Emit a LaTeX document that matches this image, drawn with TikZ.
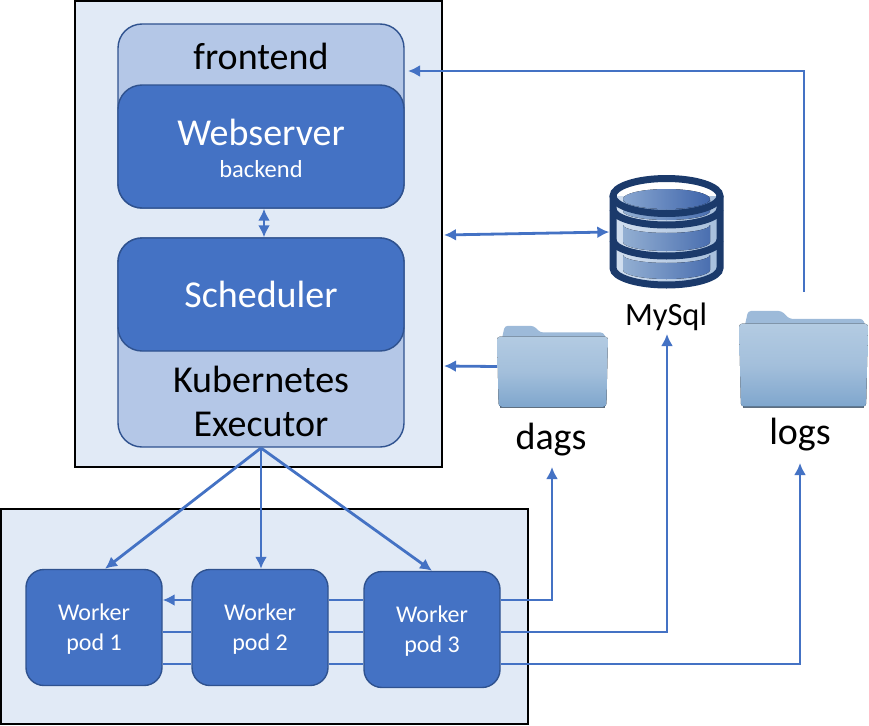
\documentclass[tikz,border=0pt]{standalone}
\usepackage{fontspec}
\setmainfont{Carlito}
\usetikzlibrary{arrows.meta,calc}
\definecolor{panelc}{HTML}{E1EAF6}
\definecolor{mainb}{HTML}{4472C4}
\definecolor{edgeb}{HTML}{2F528F}
\definecolor{lightb}{HTML}{B4C7E7}
\definecolor{navyb}{HTML}{1B3A6B}
\definecolor{b1top}{HTML}{B3CBE2}
\definecolor{b1mid}{HTML}{A3BFDB}
\definecolor{b1bot}{HTML}{7FA6CD}
\definecolor{b1back}{HTML}{9DBAD9}
\definecolor{b1edge}{HTML}{5F6F80}
\definecolor{dblight}{HTML}{D3E0F0}
\definecolor{dbmidl}{HTML}{A6BEDB}
\definecolor{dbbandl}{HTML}{93AFD2}
\definecolor{dbbandr}{HTML}{4A6FB0}
\definecolor{dblidl}{HTML}{88A6D0}
\definecolor{dblidr}{HTML}{3E64AA}
\newcommand{\podstrut}{\rule{0pt}{20.5pt}}
\tikzset{
  panel/.style={draw=black,line width=2pt,fill=panelc,inner sep=0pt},
  bluebox/.style={draw=edgeb,line width=1.4pt,fill=mainb,rounded corners=24pt,text=white,inner sep=0pt,align=center},
  lightbox/.style={draw=edgeb,line width=1.4pt,fill=lightb,rounded corners=24pt,inner sep=0pt},
  podbox/.style={draw=edgeb,line width=1.4pt,fill=mainb,rounded corners=18pt,text=white,inner sep=0pt,align=center,minimum width=136pt,minimum height=116pt,font=\fontsize{24}{30}\selectfont},
  link/.style={draw=mainb,line width=2.8pt},
  arrowlink/.style={link,-{Latex[length=12pt,width=12pt]}},
  twoway/.style={link,{Latex[length=12pt,width=12pt]}-{Latex[length=12pt,width=12pt]}},
  bigtxt/.style={font=\fontsize{38}{44}\selectfont,inner sep=0pt},
  midtxt/.style={font=\fontsize{24.5}{30}\selectfont,inner sep=0pt},
  dbarc/.style={draw=navyb,line width=7pt},
  folderpic/.pic={
    \fill[rounded corners=3pt,b1back] (0.03,0.25) -- (0.07,0.01) -- (0.33,0.01) -- (0.39,0.09) -- (0.96,0.09) -- (0.99,0.2) -- (0.99,0.4) -- (0.01,0.4) -- cycle;
    \fill[b1edge] (0.03,0.9) rectangle (0.97,1);
    \fill[rounded corners=3pt,top color=b1top,bottom color=b1bot,middle color=b1mid] (0,0.14) -- (1,0.14) -- (0.985,0.985) -- (0.015,0.985) -- cycle;
  },
}
\begin{document}
\begin{tikzpicture}[x=1pt,y=-1pt]
\useasboundingbox (0,0) rectangle (869,725);
% panels
\node[panel,minimum width=367pt,minimum height=466pt] (control) at (258.5,234) {};
\node[panel,minimum width=527pt,minimum height=215pt] (workers) at (264.5,616.5) {};
% upper boxes
\node[lightbox,minimum width=286pt,minimum height=184pt] (front) at (261,116) {};
\node[bigtxt] (frontlabel) at (261,56) {frontend};
\node[bluebox,minimum width=286pt,minimum height=123pt] (web) at (261,146.5) {};
\node[bigtxt,text=white] (weblabel) at (261,132) {Webserver};
\node[midtxt,text=white] (backlabel) at (261,169) {backend};
\node[lightbox,minimum width=286pt,minimum height=209pt] (kube) at (261,342.5) {};
\node[bluebox,minimum width=286pt,minimum height=113pt,font=\fontsize{38}{44}\selectfont] (sched) at (261,294.5) {Scheduler};
\node[bigtxt] (kubelabel) at (261,379) {Kubernetes};
\node[bigtxt] (execlabel) at (261,424) {Executor};
% pods
\node[podbox] (pod1) at (94,627.5) {\podstrut Worker\\pod 1};
\node[podbox] (pod2) at (260,627.5) {\podstrut Worker\\pod 2};
\node[podbox] (pod3) at (432,629.5) {\podstrut Worker\\pod 3};
% database
\node[inner sep=0pt,minimum width=114pt,minimum height=114pt] (db) at (666.5,232) {};
\fill[left color=dblight,right color=dbmidl] (613,196) -- (613,268) arc[start angle=180,end angle=0,x radius=53.5,y radius=17] -- (720,196) -- cycle;
\fill[left color=dbbandl,right color=dbbandr] (623,200) -- (623,211) arc[start angle=180,end angle=0,x radius=43.5,y radius=9] -- (710,200) -- cycle;
\fill[left color=dbbandl,right color=dbbandr] (623,225) -- (623,242) arc[start angle=180,end angle=0,x radius=43.5,y radius=9] -- (710,225) arc[start angle=0,end angle=180,x radius=43.5,y radius=8] -- cycle;
\fill[left color=dbbandl,right color=dbbandr] (623,255) -- (623,270) arc[start angle=180,end angle=0,x radius=43.5,y radius=9] -- (710,255) arc[start angle=0,end angle=180,x radius=43.5,y radius=8] -- cycle;
\fill[left color=dblidl,right color=dblidr] (666.5,199) ellipse[x radius=43.5,y radius=10];
\draw[dbarc] (613,209) arc[start angle=180,end angle=0,x radius=53.5,y radius=16];
\draw[dbarc] (613,240) arc[start angle=180,end angle=0,x radius=53.5,y radius=16];
\draw[dbarc] (613,196) -- (613,268) arc[start angle=180,end angle=0,x radius=53.5,y radius=17] -- (720,196);
\draw[dbarc] (666.5,196) ellipse[x radius=53.5,y radius=17.5];
\node[inner sep=0pt,font=\fontsize{32.5}{38}\selectfont] (mysql) at (666,317) {MySql};
% folders
\pic[xscale=111,yscale=83] at (497,325) {folderpic};
\node[inner sep=0pt,minimum width=111pt,minimum height=83pt] (dagsfolder) at (552.5,366.5) {};
\pic[xscale=129,yscale=98] at (739,310) {folderpic};
\node[inner sep=0pt,minimum width=129pt,minimum height=98pt] (logsfolder) at (803.5,359) {};
\node[bigtxt] (dagslabel) at (551,440) {dags};
\node[bigtxt] (logslabel) at (800,435) {logs};
% free ends
\coordinate (fronttip) at (408,71);
\coordinate (logsup) at (804,292);
\coordinate (logstop) at (804,71);
\coordinate (ctrlright) at (444,235);
\coordinate (dagin) at (444,366);
\coordinate (dagstip) at (552,467);
\coordinate (mysqltip) at (667,334);
\coordinate (logstip) at (800,463);
\coordinate (hub) at (261,448);
% connectors
\draw[twoway] (web.south -| 264,0) -- (sched.north -| 264,0);
\draw[twoway] (ctrlright) -- (db.west);
\draw[arrowlink] (dagsfolder.west) -- (dagin);
\draw[arrowlink] (logsup) -- (logstop) -- (fronttip);
\draw[arrowlink] (hub) -- (pod1.north -| 105,0);
\draw[arrowlink] (hub) -- (pod2.north -| 261,0);
\draw[arrowlink] (hub) -- (pod3.north -| 432,0);
\draw[arrowlink] (pod2.west |- 0,600) -- (pod1.east |- 0,600);
\draw[link] (pod1.east |- 0,632) -- (pod2.west |- 0,632);
\draw[link] (pod1.east |- 0,664) -- (pod2.west |- 0,664);
\draw[link] (pod2.east |- 0,600) -- (pod3.west |- 0,600);
\draw[link] (pod2.east |- 0,632) -- (pod3.west |- 0,632);
\draw[link] (pod2.east |- 0,664) -- (pod3.west |- 0,664);
\draw[arrowlink] (pod3.east |- 0,600) -| (dagstip);
\draw[arrowlink] (pod3.east |- 0,632) -| (mysqltip);
\draw[arrowlink] (pod3.east |- 0,664) -| (logstip);
\end{tikzpicture}
\end{document}
